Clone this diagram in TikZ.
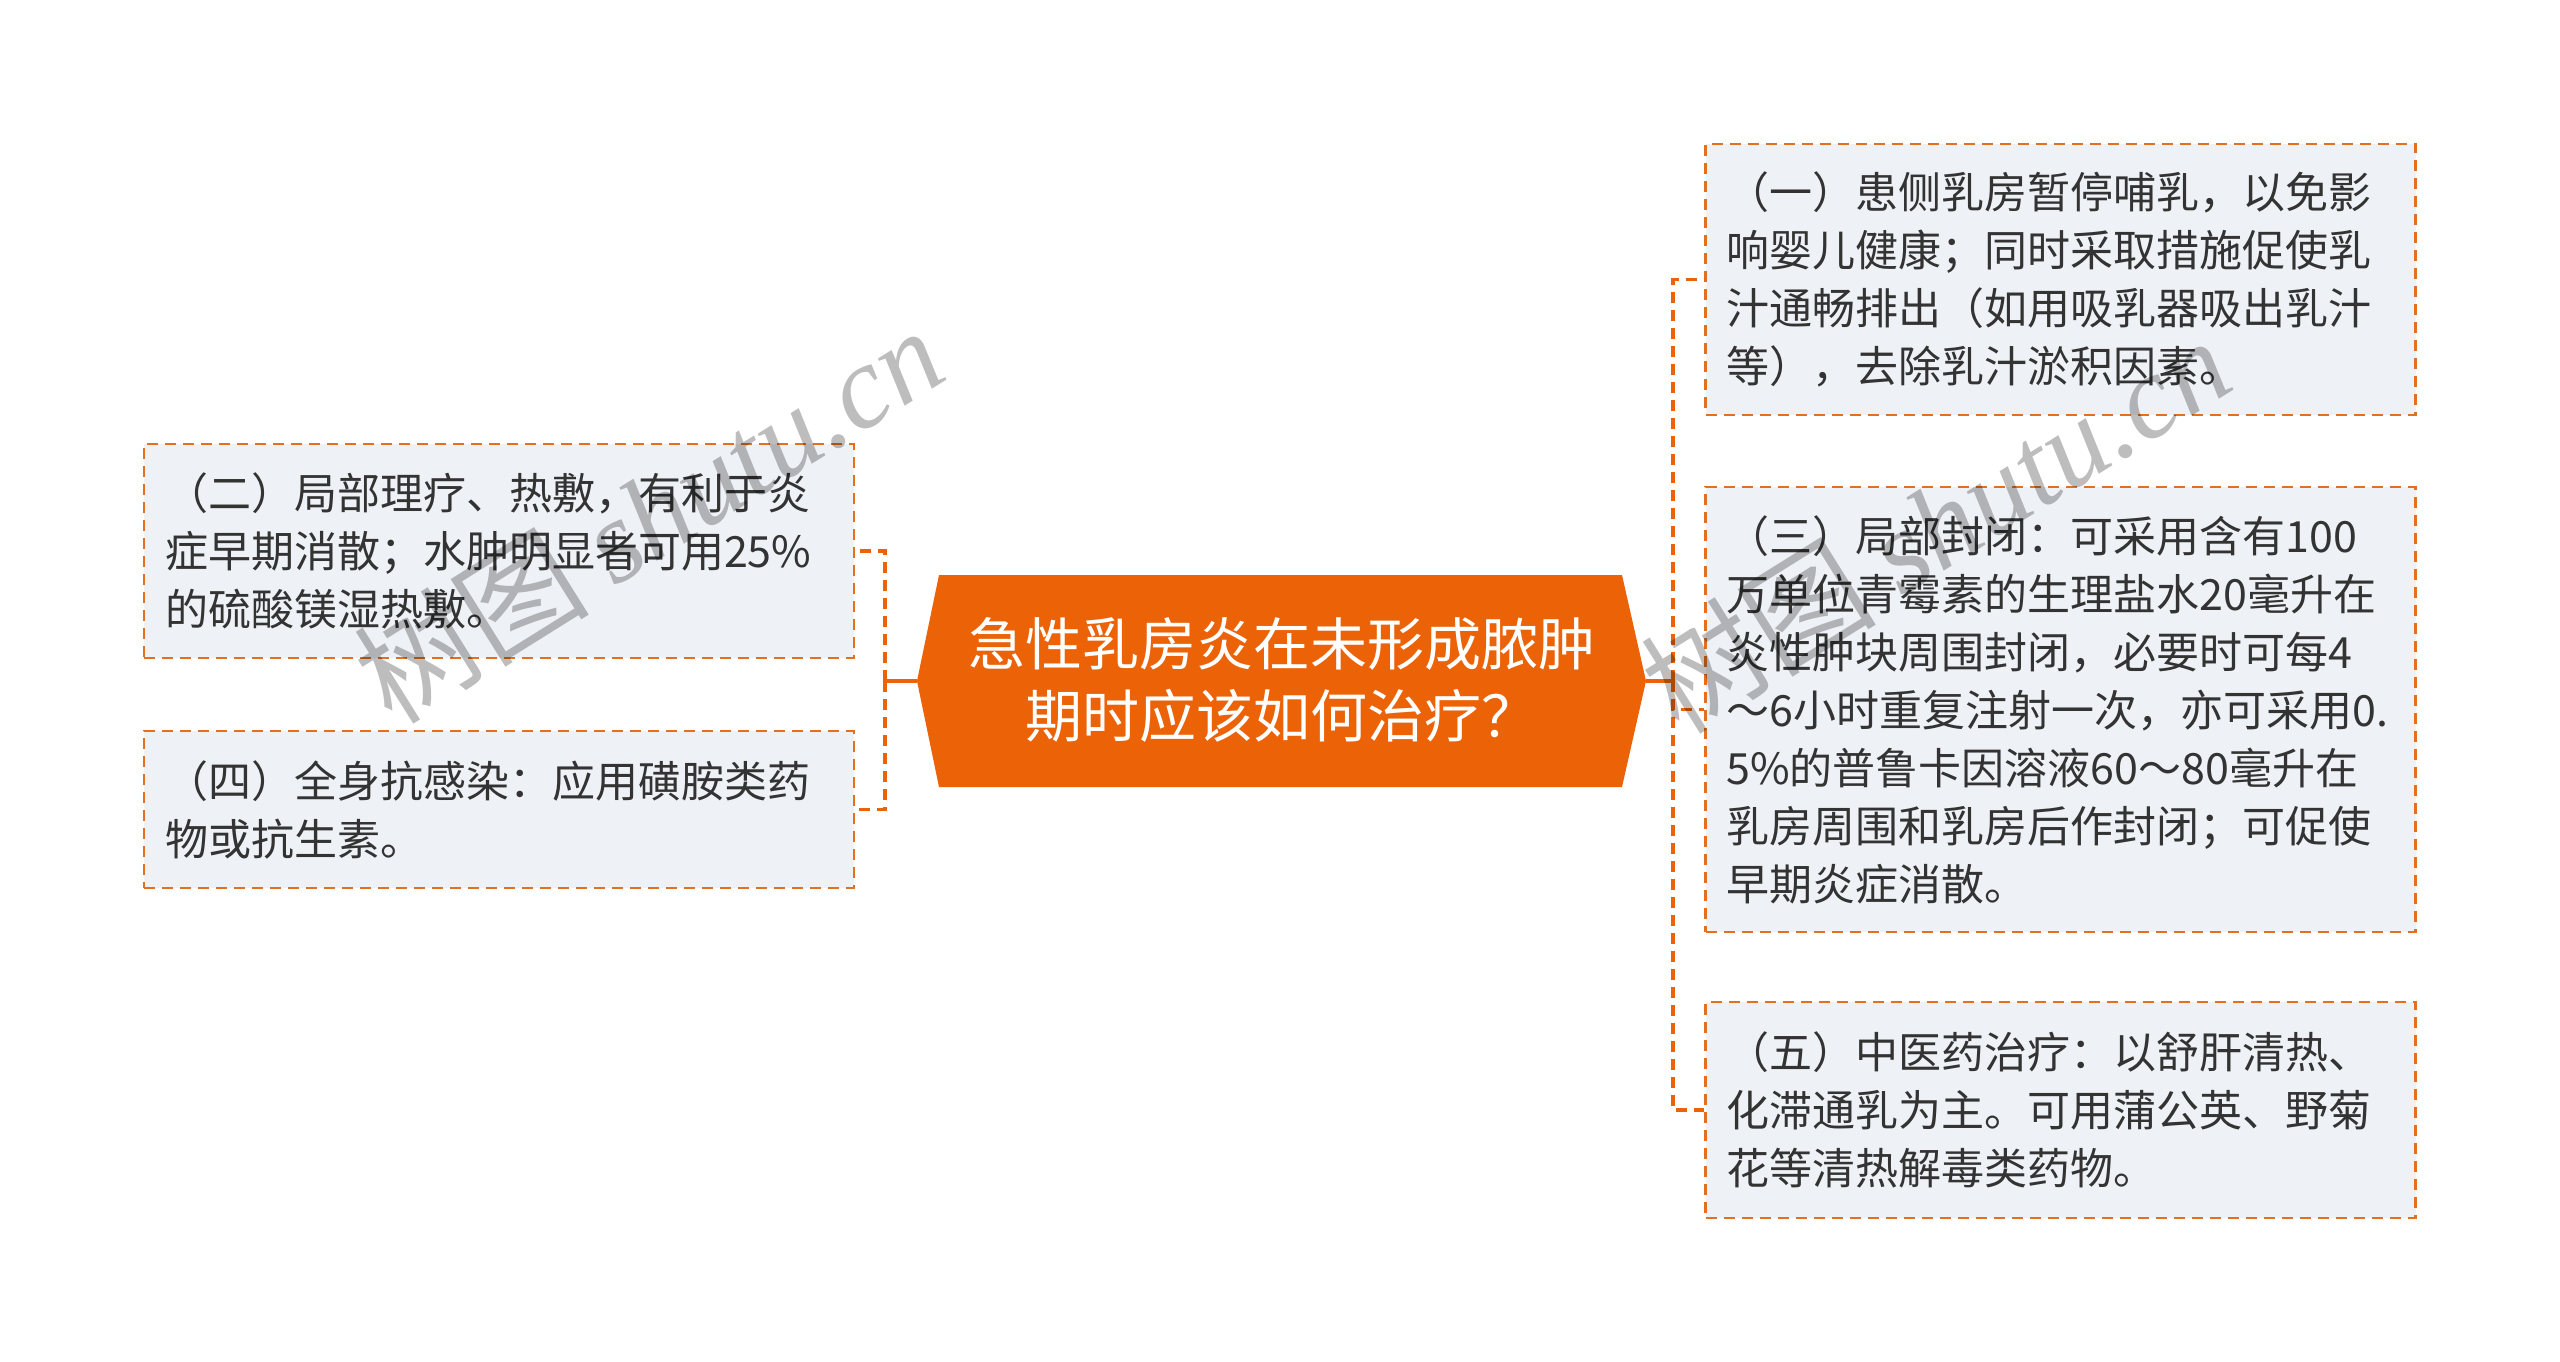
\documentclass[tikz,border=0pt]{standalone}
\usepackage{fontspec}
\setmainfont{Noto Sans CJK SC}
\newfontfamily\wmserif{Liberation Serif}
\usetikzlibrary{calc}
\definecolor{orangec}{HTML}{EB6207}
\definecolor{dashc}{HTML}{E2701E}
\definecolor{boxfill}{HTML}{EEF1F5}
\definecolor{txt}{HTML}{333333}
\begin{document}
\begin{tikzpicture}[x=1pt,y=-1pt,
  topicbox/.style={draw=dashc, fill=boxfill, line width=2.5pt,
    dash pattern=on 11pt off 7pt, align=left, inner xsep=21pt, inner ysep=0pt,
    text=txt, font=\fontsize{43}{58}\selectfont, text width=668pt,
    minimum width=710pt},
  centretext/.style={text=white, align=center, inner sep=0pt,
    font=\fontsize{57}{72}\selectfont},
  solidconn/.style={draw=orangec, line width=3.5pt},
  dashconn/.style={draw=orangec, line width=3.5pt, dash pattern=on 11pt off 7pt},
  wm/.style={text=black, text opacity=0.26, inner sep=0pt, font=\fontsize{118}{118}\selectfont}
]
\useasboundingbox (0,0) rectangle (2560,1361);
\fill[white] (0,0) rectangle (2560,1361);

% central topic
\coordinate (cnw) at (939,575);
\coordinate (cne) at (1622,575);
\coordinate (cse) at (1622,787);
\coordinate (csw) at (939,787);
\coordinate (ctipL) at (917,681);
\coordinate (ctipR) at (1646,681);
\fill[orangec] (cnw) -- (cne) -- (ctipR) -- (cse) -- (csw) -- (ctipL) -- cycle;
\node[centretext] (c) at (1282,680) {急性乳房炎在未形成脓肿\\期时应该如何治疗？};

% left boxes
\node[topicbox, minimum height=214pt] (b2) at (499,551)
  {（二）局部理疗、热敷，有利于炎\\症早期消散；水肿明显者可用25\%\\的硫酸镁湿热敷。};
\node[topicbox, minimum height=157pt] (b4) at (499,809.5)
  {（四）全身抗感染：应用磺胺类药\\物或抗生素。};

% right boxes
\node[topicbox, minimum height=271pt] (b1) at (2060.5,279.5)
  {（一）患侧乳房暂停哺乳，以免影\\响婴儿健康；同时采取措施促使乳\\汁通畅排出（如用吸乳器吸出乳汁\\等），去除乳汁淤积因素。};
\node[topicbox, minimum height=445pt] (b3) at (2060.5,709.5)
  {（三）局部封闭：可采用含有100\\万单位青霉素的生理盐水20毫升在\\炎性肿块周围封闭，必要时可每4\\～6小时重复注射一次，亦可采用0.\\5\%的普鲁卡因溶液60～80毫升在\\乳房周围和乳房后作封闭；可促使\\早期炎症消散。};
\node[topicbox, minimum height=216pt] (b5) at (2060.5,1110)
  {（五）中医药治疗：以舒肝清热、\\化滞通乳为主。可用蒲公英、野菊\\花等清热解毒类药物。};

% connectors
\coordinate (lj) at (885,681);
\coordinate (rj) at (1673,681);
\draw[solidconn] (ctipL) -- (lj);
\draw[solidconn] (ctipR) -- (rj);
\draw[dashconn] (lj) |- (b2.east);
\draw[dashconn] (lj) |- (b4.east);
\draw[dashconn] (rj) |- (b1.west);
\draw[dashconn] (rj) |- (b3.west);
\draw[dashconn] (rj) |- (b5.west);

% watermarks
\node[wm, rotate=32] (wm1) at (648,514) {树图 {\wmserif\itshape shutu.cn}};
\node[wm, rotate=32] (wm2) at (1935,524) {树图 {\wmserif\itshape shutu.cn}};
\end{tikzpicture}
\end{document}
